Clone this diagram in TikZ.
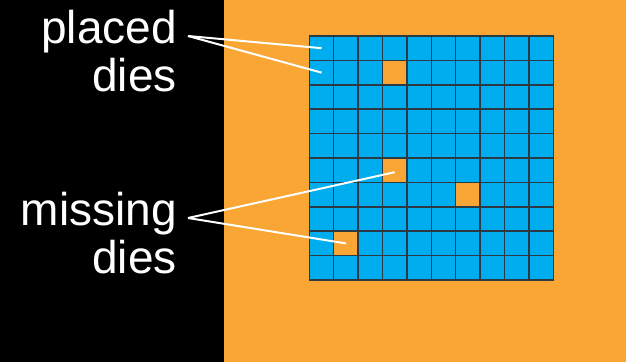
\documentclass[tikz,border=0pt]{standalone}
\usepackage{fontspec}
\setmainfont{Liberation Sans}
\definecolor{waferorange}{RGB}{250,166,52}
\definecolor{dieblue}{RGB}{0,174,239}
\definecolor{gridline}{RGB}{44,58,68}
\begin{document}
\begin{tikzpicture}[x=1pt,y=-1pt,
  label text/.style={text=white,inner sep=0pt,anchor=base east,font=\fontsize{46}{48}\selectfont},
  die/.style={draw=gridline,line width=1.5pt,fill=dieblue,minimum size=24.4pt,inner sep=0pt,outer sep=0pt},
  gap/.style={die,fill=waferorange},
  pointer/.style={draw=white,line width=2pt}]
\useasboundingbox (0,0) rectangle (626,362);
% background: dark panel for the labels, wafer on the right
\fill[black] (0,0) rectangle (224,362);
\fill[waferorange] (224,0) rectangle (626,362);
% 10 x 10 array of dies
\foreach \c in {0,...,9}{
  \foreach \r in {0,...,9}{
    \node[die] (d-\c-\r) at ({309.3+12.2+24.4*\c},{36+12.2+24.4*\r}) {};
  }
}
% empty sites
\foreach \c/\r in {3/1,3/5,6/6,1/8}{
  \node[gap] at (d-\c-\r) {};
}
% labels
\node[label text] (placed) at (177,43) {placed};
\node[label text] (placed2) at (177,91) {dies};
\node[label text] (missing) at (177,225) {missing};
\node[label text] (missing2) at (177,273) {dies};
\coordinate (pa) at ([shift={(11,-7)}]placed.base east);
\coordinate (ma) at ([shift={(11,-7)}]missing.base east);
% pointers
\draw[pointer] (pa) -- (d-0-0.center);
\draw[pointer] (pa) -- (d-0-1.center);
\draw[pointer] (ma) -- ([yshift=-2pt]d-3-5.center);
\draw[pointer] (ma) -- (d-1-8.center);
\end{tikzpicture}
\end{document}
